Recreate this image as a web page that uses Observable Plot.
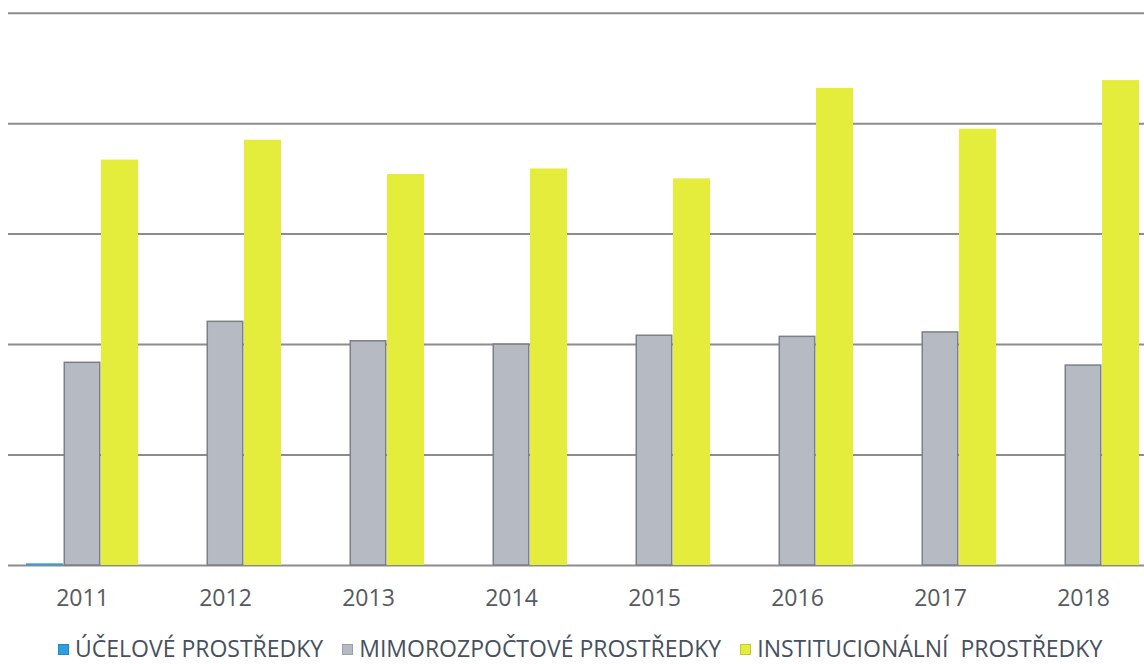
<!DOCTYPE html>
<html>
<head>
<meta charset="utf-8">
<script src="https://cdn.jsdelivr.net/npm/d3@7"></script>
<script src="https://cdn.jsdelivr.net/npm/@observablehq/plot@0.6"></script>
<style>
  html, body { margin: 0; padding: 0; background: #fff; width: 1144px; height: 664px; overflow: hidden; }
  #chart { position: absolute; left: 0; top: 0; }
  #legend { position: absolute; left: 58px; top: 632px; display: flex; align-items: center; font-family: "Open Sans", sans-serif; font-size: 23px; color: #47505e; white-space: pre; line-height: normal; }
  .item { display: flex; align-items: center; margin-right: 19px; }
  .sw { width: 9px; height: 9px; margin-right: 6px; margin-top: 3px; border: 1px solid rgba(0,0,0,0.15); }
</style>
</head>
<body>
<div id="chart"></div>
<div id="legend"></div>
<script>
const years = ["2011", "2012", "2013", "2014", "2015", "2016", "2017", "2018"];
const seriesNames = ["ÚČELOVÉ PROSTŘEDKY", "MIMOROZPOČTOVÉ PROSTŘEDKY", "INSTITUCIONÁLNÍ  PROSTŘEDKY"];
const ucelove = [0.015, 0, 0, 0, 0, 0, 0, 0];
const mimorozpoctove = [1.835, 2.206, 2.03, 2.0, 2.08, 2.07, 2.11, 1.81];
const institucionalni = [3.67, 3.85, 3.54, 3.59, 3.5, 4.32, 3.95, 4.39];
const gridValues = [0, 1, 2, 3, 4, 5];
const colors = ["#2a9fe2", "#b6bac3", "#e5ed3c"];

const seriesValues = [ucelove, mimorozpoctove, institucionalni];
const rows = seriesValues.map((vals) => years.map((y, i) => ({year: y, value: vals[i]})));

const W = 1157, ML = 8, pIn = 0.215, pOut = 0.115;
const step = (W - ML) / (years.length - pIn + 2 * pOut);
const third = step * (1 - pIn) / 3;

const plot = Plot.plot({
  width: W,
  height: 620,
  marginLeft: ML,
  marginRight: 0,
  marginTop: 12.7,
  marginBottom: 55,
  style: {fontFamily: "Open Sans, sans-serif", maxWidth: "none", background: "transparent", overflow: "visible"},
  x: {domain: years, paddingInner: pIn, paddingOuter: pOut, label: null},
  y: {domain: [0, 5], axis: null},
  marks: [
    Plot.ruleY(gridValues, {stroke: "#8c8c8c", strokeWidth: 2}),
    Plot.barY(rows[0], {x: "year", y: "value", fill: colors[0], insetRight: 2 * third}),
    Plot.barY(rows[1], {x: "year", y: "value", fill: colors[1], stroke: "#7d7f84", strokeWidth: 1.5, insetLeft: third + 0.75, insetRight: third + 0.75}),
    Plot.barY(rows[2], {x: "year", y: "value", fill: colors[2], insetLeft: 2 * third}),
    Plot.axisX({tickSize: 0, tickPadding: 24, fontSize: 23, color: "#555a60"})
  ]
});
plot.style.maxWidth = "none";
document.getElementById("chart").appendChild(plot);

const legend = document.getElementById("legend");
seriesNames.forEach((name, i) => {
  const it = document.createElement("div");
  it.className = "item";
  const sw = document.createElement("span");
  sw.className = "sw";
  sw.style.background = colors[i];
  const tx = document.createElement("span");
  tx.textContent = name;
  it.appendChild(sw);
  it.appendChild(tx);
  legend.appendChild(it);
});
</script>
</body>
</html>
